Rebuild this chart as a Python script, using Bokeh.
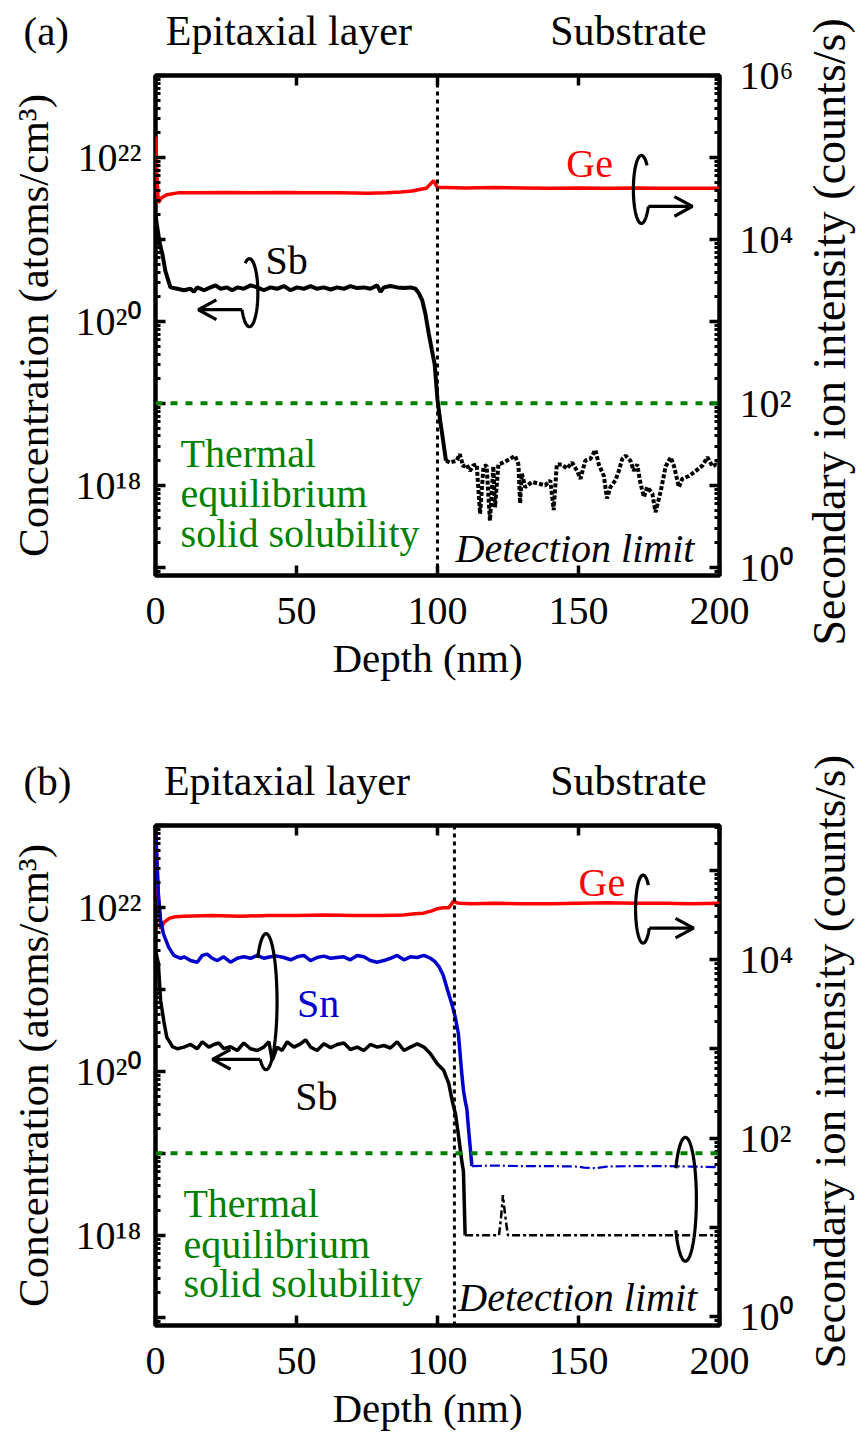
import numpy as np
from bokeh.plotting import figure
from bokeh.models import (Range1d, LogScale, LogAxis, LinearAxis, FixedTicker,
                          CustomJSTickFormatter, Label, Span, Title)
from bokeh.layouts import column
from bokeh.embed import file_html
from bokeh.resources import INLINE

# ---------------- data : panel (a) ----------------
depth_a_ge = [0, 0.5, 1, 2, 4, 8, 15, 25, 35, 45, 55, 65, 75, 82, 87, 91, 94, 96, 98.6,
              100, 103, 110, 120, 130, 140, 150, 160, 170, 180, 190, 200]
ge_a = [1.8e5, 6e4, 2.8e4, 3.2e4, 3.5e4, 3.7e4, 3.7e4, 3.75e4, 3.7e4, 3.75e4, 3.7e4, 3.7e4,
        3.65e4, 3.7e4, 3.8e4, 3.9e4, 4.1e4, 4.2e4, 5.2e4, 4.3e4, 4.3e4, 4.25e4, 4.3e4,
        4.25e4, 4.2e4, 4.25e4, 4.2e4, 4.25e4, 4.2e4, 4.2e4, 4.2e4]

depth_a_sb = [0, 0.5, 1.5, 2.5, 3.5, 5.3, 7.7, 10.1, 12.4, 13.6, 14.8, 17.2, 19.5, 21.3, 23.1,
              25.4, 27.2, 29.0, 31.3, 33.7, 36.1, 38.4, 40.8, 43.1, 45.5, 47.9, 50.2, 52.6,
              55.0, 57.3, 59.7, 62.1, 64.4, 66.8, 69.1, 71.5, 73.9, 76.2, 78.6, 79.8, 81.0,
              83.3, 85.7, 88.1, 90.4, 92.2, 93.4, 94.6, 95.7, 96.9, 98, 99, 100, 101, 102, 103]
sb_a = [2.0e21, 1.5e21, 9e20, 6.5e20, 4.1e20, 2.6e20, 2.5e20, 2.4e20, 2.5e20, 2.3e20, 2.6e20,
        2.4e20, 2.6e20, 2.75e20, 2.5e20, 2.6e20, 2.4e20, 2.6e20, 2.5e20, 2.75e20, 2.6e20,
        2.4e20, 2.6e20, 2.5e20, 2.7e20, 2.4e20, 2.6e20, 2.5e20, 2.7e20, 2.5e20, 2.6e20,
        2.45e20, 2.6e20, 2.5e20, 2.7e20, 2.55e20, 2.6e20, 2.5e20, 2.75e20, 2.3e20, 2.6e20,
        2.7e20, 2.6e20, 2.55e20, 2.6e20, 2.5e20, 2.2e20, 1.8e20, 1.24e20, 7.1e19, 4.5e19,
        3.0e19, 1.1e19, 6.0e18, 3.5e18, 2.0e18]

depth_a_tail = [103, 104.4, 106.8, 107.9, 109.1, 110.3, 111.5, 112.7, 113.9, 115.1, 116.3, 117.4,
                118.6, 119.8, 120.4, 121.6, 123.4, 125.7, 127.5, 128.7, 129.3, 129.9, 131.1,
                133.5, 135.8, 138.2, 140.0, 141.2, 142.3, 144.1, 145.9, 147.7, 149.5, 150.7,
                152.4, 154.2, 156.0, 157.2, 159.0, 160.1, 161.3, 163.1, 164.3, 165.5, 166.7,
                168.4, 169.6, 170.8, 172.0, 173.2, 174.4, 176.2, 177.3, 179.1, 180.9, 182.7,
                183.9, 185.6, 186.8, 189.2, 191.6, 194.0, 195.7, 197.5, 198.7, 200]
sb_a_tail = [2.0e18, 1.9e18, 2.0e18, 2.4e18, 1.7e18, 1.8e18, 1.5e18, 1.75e18, 1.8e18, 4.5e17,
             1.7e18, 1.75e18, 3.7e17, 1.7e18, 5.4e17, 1.8e18, 1.9e18, 2.1e18, 2.3e18, 1.8e18,
             6.0e17, 1.4e18, 9.5e17, 1.1e18, 1.05e18, 1.0e18, 1.15e18, 5.0e17, 1.8e18, 1.8e18,
             1.6e18, 1.9e18, 1.5e18, 1.2e18, 2.0e18, 2.1e18, 2.7e18, 1.8e18, 1.3e18, 6.9e17,
             9.5e17, 1.15e18, 1.5e18, 2.1e18, 2.3e18, 2.0e18, 1.5e18, 1.8e18, 1.05e18, 7.2e17,
             9.5e17, 7.9e17, 4.7e17, 8.3e17, 1.7e18, 2.2e18, 1.7e18, 9.5e17, 1.2e18, 1.3e18,
             1.5e18, 1.75e18, 2.2e18, 1.7e18, 1.8e18, 1.75e18]

# ---------------- data : panel (b) ----------------
depth_b_ge = [0, 1.0, 1.8, 3, 5, 7, 10, 20, 30, 40, 50, 60, 70, 80, 88, 92, 95, 98, 100, 102,
              104, 105.7, 107, 108, 112, 120, 130, 140, 150, 160, 170, 180, 190, 200]
ge_b = [3e5, 5e4, 2.2e4, 2.6e4, 2.9e4, 3.0e4, 3.05e4, 3.1e4, 3.05e4, 3.1e4, 3.1e4, 3.15e4,
        3.1e4, 3.1e4, 3.15e4, 3.25e4, 3.3e4, 3.5e4, 3.7e4, 3.8e4, 3.8e4, 4.5e4, 4.3e4, 4.25e4,
        4.2e4, 4.25e4, 4.2e4, 4.2e4, 4.25e4, 4.3e4, 4.25e4, 4.25e4, 4.2e4, 4.25e4]

depth_b_sn = [0, 1.0, 1.8, 2.8, 4.6, 6.5, 8.9, 10.1, 12.4, 14.8, 16.6, 18.3, 20.1, 21.9, 24.2,
              26.6, 29.0, 31.3, 33.7, 36.1, 38.4, 40.8, 43.1, 45.5, 47.9, 50.2, 52.6, 55.0,
              57.3, 59.7, 62.1, 64.4, 66.8, 69.1, 71.5, 73.9, 76.2, 78.6, 81.0, 83.3, 85.7,
              88.1, 90.4, 92.8, 95.2, 97.5, 99, 100.5, 102, 103.5, 105, 106.3, 107.4, 108.6,
              109.2, 109.8, 110.4, 111.0, 112.2]
sn_b = [1e23, 1.5e22, 7e21, 4.8e21, 3.3e21, 2.6e21, 2.4e21, 2.5e21, 2.25e21, 2.15e21, 2.6e21,
        2.7e21, 2.4e21, 2.25e21, 2.5e21, 2.15e21, 2.4e21, 2.5e21, 2.4e21, 2.6e21, 2.4e21,
        2.5e21, 2.55e21, 2.45e21, 2.3e21, 2.5e21, 2.6e21, 2.25e21, 2.45e21, 2.55e21, 2.4e21,
        2.45e21, 2.5e21, 2.3e21, 2.6e21, 2.5e21, 2.25e21, 2.15e21, 2.25e21, 2.4e21, 2.6e21,
        2.3e21, 2.5e21, 2.45e21, 2.6e21, 2.4e21, 2.2e21, 1.9e21, 1.5e21, 1.0e21, 6.8e20,
        4.6e20, 2.9e20, 9.5e19, 5.9e19, 4.4e19, 3.5e19, 2.0e19, 7.0e18]

depth_b_sn_tail = [112.2, 120, 130, 140, 150, 152, 156, 160, 170, 180, 190, 200]
sn_b_tail = [7.0e18, 7.1e18, 7.0e18, 7.0e18, 6.9e18, 6.7e18, 6.6e18, 6.9e18, 7.0e18, 7.0e18,
             6.9e18, 6.8e18]

depth_b_sb = [0, 1.0, 1.8, 3, 4, 5, 6, 7.7, 10.1, 12.4, 14.8, 16.6, 18.9, 20.7, 22.5, 24.2,
              26.6, 29.0, 31.3, 33.7, 36.1, 38.4, 40.2, 41.4, 43.1, 44.9, 46.7, 49.1, 51.4,
              53.2, 55.0, 57.3, 59.7, 62.1, 64.4, 66.8, 69.1, 71.5, 73.9, 76.2, 78.6, 81.0,
              83.3, 85.7, 88.1, 90.4, 92.8, 95.2, 97.5, 99.9, 102.2, 104.0, 105.2, 106.4,
              107.4, 108.6, 109.2, 109.8]
sb_b = [3e21, 2.1e21, 7.4e20, 4.0e20, 2.6e20, 2.3e20, 2.0e20, 1.89e20, 1.98e20, 2.13e20,
        1.89e20, 2.3e20, 1.98e20, 2.13e20, 2.22e20, 1.89e20, 2.0e20, 1.8e20, 2.22e20, 1.89e20,
        1.8e20, 1.98e20, 2.3e20, 1.36e20, 1.98e20, 1.8e20, 2.3e20, 1.98e20, 2.17e20, 2.43e20,
        1.98e20, 1.8e20, 2.17e20, 1.95e20, 2.13e20, 2.22e20, 1.85e20, 1.98e20, 1.8e20,
        2.13e20, 1.98e20, 2.07e20, 1.93e20, 2.3e20, 1.8e20, 1.98e20, 2.17e20, 1.98e20,
        1.64e20, 1.24e20, 1.03e20, 7.1e19, 4.4e19, 3.0e19, 1.7e19, 8.1e18, 6.0e18, 1.0e18]

depth_b_sb_tail = [109.8, 115, 121.8, 122.5, 123.2, 123.8, 124.5, 125, 130, 140, 150, 160, 170,
                   180, 190, 200]
sb_b_tail = [1.0e18, 1.0e18, 1.0e18, 1.6e18, 3.1e18, 2.0e18, 1.3e18, 1.0e18, 1.0e18, 1.0e18,
             1.0e18, 1.0e18, 1.0e18, 1.0e18, 1.0e18, 1.0e18]

solubility = 1e19
interface_a = 100
interface_b = 106

x_ticks = [0, 50, 100, 150, 200]
region_names = ["Epitaxial layer", "Substrate"]

FONT = "Liberation Serif"
TICK_FONT = "Liberation Serif, Noto Sans"
RED = "#ff0000"
BLUE = "#0000cc"
GREEN = "#008000"

SUP_JS = r"""
const e = Math.round(Math.log10(tick));
if (e % 2 !== 0) { return ""; }
const sup = ["\u2070","\u00b9","\u00b2","\u00b3","\u2074","\u2075","\u2076","\u2077","\u2078","\u2079"];
return "10" + String(e).split("").map((c) => sup[Number(c)]).join("");
"""


def decade_ticks(lo, hi):
    majors = [10.0 ** k for k in range(lo, hi + 1)]
    minors = [m * 10.0 ** k for k in range(lo - 1, hi + 1) for m in range(2, 10)]
    return FixedTicker(ticks=majors, minor_ticks=minors)


def style_axis(ax):
    ax.major_label_text_font = TICK_FONT
    ax.major_label_text_font_size = "40px"
    ax.major_label_text_color = "black"
    ax.axis_label_text_font = FONT
    ax.axis_label_text_font_style = "normal"
    ax.axis_label_text_color = "black"
    ax.axis_line_color = None
    ax.major_tick_in = 10
    ax.major_tick_out = 0
    ax.minor_tick_in = 5
    ax.minor_tick_out = 0
    ax.major_tick_line_width = 3.5
    ax.minor_tick_line_width = 3
    ax.major_tick_line_color = "black"
    ax.minor_tick_line_color = "black"


def loop(p, cx, cly, a_nm, b_dec, t0, t1, arrow_to=None):
    ts = np.radians(np.linspace(t0, t1, 90))
    xs = cx + a_nm * np.cos(ts)
    ys = 10 ** (cly + b_dec * np.sin(ts))
    p.line(xs, ys, line_color="black", line_width=3.2)
    if arrow_to is not None:
        xe, ye = xs[-1], ys[-1]
        p.line([xe, arrow_to], [ye, ye], line_color="black", line_width=3.2)
        d = np.sign(arrow_to - xe)
        bx = arrow_to - d * 6.4
        p.line([bx, arrow_to, bx], [ye * 10 ** 0.12, ye, ye / 10 ** 0.12],
               line_color="black", line_width=3.2)


def label(p, x, ly, text, size="40px", color="black", style="normal"):
    p.add_layout(Label(x=x, y=10 ** ly, text=text, text_font=FONT, text_font_size=size,
                       text_color=color, text_font_style=style,
                       text_baseline="alphabetic", text_align="left"))


def side_title(p, side, text, size, align, valign, offset, standoff):
    p.add_layout(Title(text=text, align=align, vertical_align=valign, offset=offset,
                       standoff=standoff, text_font=FONT, text_font_size=size,
                       text_font_style="normal", text_color="black"), side)


def make_panel(height, bottom_border, right_hi, right_top_dec, tag, region_pos,
               right_offset, right_size):
    p = figure(width=866, height=height, x_range=Range1d(0, 200),
               y_range=Range1d(10 ** 16.9, 10 ** 23.0), y_axis_type="log",
               output_backend="svg", toolbar_location=None, title_location=None,
               min_border_left=155, min_border_right=147, min_border_top=75,
               min_border_bottom=bottom_border)
    p.extra_y_ranges = {"right": Range1d(10 ** -0.1, 10 ** right_hi)}
    p.extra_y_scales = {"right": LogScale()}
    p.xgrid.grid_line_color = None
    p.ygrid.grid_line_color = None
    p.outline_line_color = "black"
    p.outline_line_width = 4.5
    p.outline_line_alpha = 1.0
    p.background_fill_color = "white"
    p.border_fill_color = "white"

    yl = p.yaxis[0]
    yl.ticker = decade_ticks(17, 23)
    yl.formatter = CustomJSTickFormatter(code=SUP_JS)
    yl.axis_label = "Concentration (atoms/cm\u00b3)"
    style_axis(yl)
    yl.axis_label_text_font_size = "43px"
    yl.major_label_standoff = 14
    yl.axis_label_standoff = 16

    xb = p.xaxis[0]
    xb.ticker = FixedTicker(ticks=x_ticks, minor_ticks=[])
    style_axis(xb)
    xb.major_label_standoff = 22

    # top frame ticks
    xt = LinearAxis(ticker=FixedTicker(ticks=x_ticks, minor_ticks=[]),
                    formatter=CustomJSTickFormatter(code="return '';"))
    style_axis(xt)
    xt.major_label_text_font_size = "1px"
    xt.major_label_standoff = 0
    p.add_layout(xt, "above")

    # region names above the frame
    xr = LinearAxis(ticker=FixedTicker(ticks=region_pos, minor_ticks=[]),
                    formatter=CustomJSTickFormatter(
                        args=dict(names=region_names),
                        code="return tick < 100 ? names[0] : names[1];"))
    style_axis(xr)
    xr.major_label_text_font = FONT
    xr.major_label_text_font_size = "42px"
    xr.major_tick_line_color = None
    xr.minor_tick_line_color = None
    xr.major_tick_in = 0
    xr.minor_tick_in = 0
    xr.major_label_standoff = 22
    p.add_layout(xr, "above")

    yr = LogAxis(y_range_name="right", ticker=decade_ticks(0, right_top_dec),
                 formatter=CustomJSTickFormatter(code=SUP_JS))
    style_axis(yr)
    yr.major_label_standoff = 20
    p.add_layout(yr, "right")

    p.add_layout(Span(location=solubility, dimension="width", line_color=GREEN,
                      line_width=4, line_dash="7 8"))

    # panel tag, x title and right-axis title
    side_title(p, "above", tag, "41px", "left", "bottom", -132, -98)
    side_title(p, "above", "Depth (nm)", "41px", "left", "bottom", 177, -1352)
    side_title(p, "left", "Secondary ion intensity (counts/s)", right_size, "left",
               "bottom", right_offset, -1697)
    return p


# ---------------- panel (a) ----------------
pa = make_panel(750, 175, 6.0, 6, "(a)", [47.3, 167.7], -70, "46px")
pa.add_layout(Span(location=interface_a, dimension="height", line_color="black",
                   line_width=3, line_dash="4 4"))
pa.line(depth_a_ge, ge_a, y_range_name="right", line_color=RED, line_width=3.5)
pa.line(depth_a_sb, sb_a, line_color="black", line_width=4)
pa.line(depth_a_tail, sb_a_tail, line_color="black", line_width=4, line_dash="4 2")

loop(pa, 33.3, 20.35, 3.0, 0.415, 120, -150, arrow_to=15.2)
loop(pa, 172.3, 21.61, 2.84, 0.415, 45, 330, arrow_to=190.4)

label(pa, 145.7, 21.93, "Ge", color=RED)
label(pa, 39.0, 20.74, "Sb")
label(pa, 8.9, 18.39, "Thermal", color=GREEN)
label(pa, 8.9, 17.90, "equilibrium", color=GREEN)
label(pa, 8.9, 17.41, "solid solubility", color=GREEN)
label(pa, 106.4, 17.23, "Detection limit", style="italic")

# ---------------- panel (b) ----------------
pb = make_panel(684, 109, 5.5, 5, "(b)", [46.6, 167.7], -43, "45px")
pb.add_layout(Span(location=interface_b, dimension="height", line_color="black",
                   line_width=3, line_dash="4 4"))
pb.line(depth_b_ge, ge_b, y_range_name="right", line_color=RED, line_width=3.5)
pb.line(depth_b_sn, sn_b, line_color=BLUE, line_width=3.5)
pb.line(depth_b_sn_tail, sn_b_tail, line_color=BLUE, line_width=2.2, line_dash="10 3 2 3")
pb.line(depth_b_sb, sb_b, line_color="black", line_width=3.5)
pb.line(depth_b_sb_tail, sb_b_tail, line_color="black", line_width=2.5, line_dash="8 3 3 3")

loop(pb, 39.2, 20.85, 3.9, 0.83, 140, -122, arrow_to=20.2)
loop(pb, 172.9, 21.98, 2.66, 0.415, 45, 326, arrow_to=190.8)
loop(pb, 187.9, 18.44, 3.9, 0.756, 150, -150)

label(pb, 150.0, 22.30, "Ge", color=RED)
label(pb, 50.2, 20.83, "Sn", color=BLUE)
label(pb, 49.6, 19.69, "Sb")
label(pb, 9.9, 18.39, "Thermal", color=GREEN)
label(pb, 9.9, 17.89, "equilibrium", color=GREEN)
label(pb, 9.9, 17.41, "solid solubility", color=GREEN)
label(pb, 107.4, 17.24, "Detection limit", style="italic")

layout = column(pa, pb, spacing=0)
open("out.html", "w", encoding="utf-8").write(file_html(layout, INLINE))
